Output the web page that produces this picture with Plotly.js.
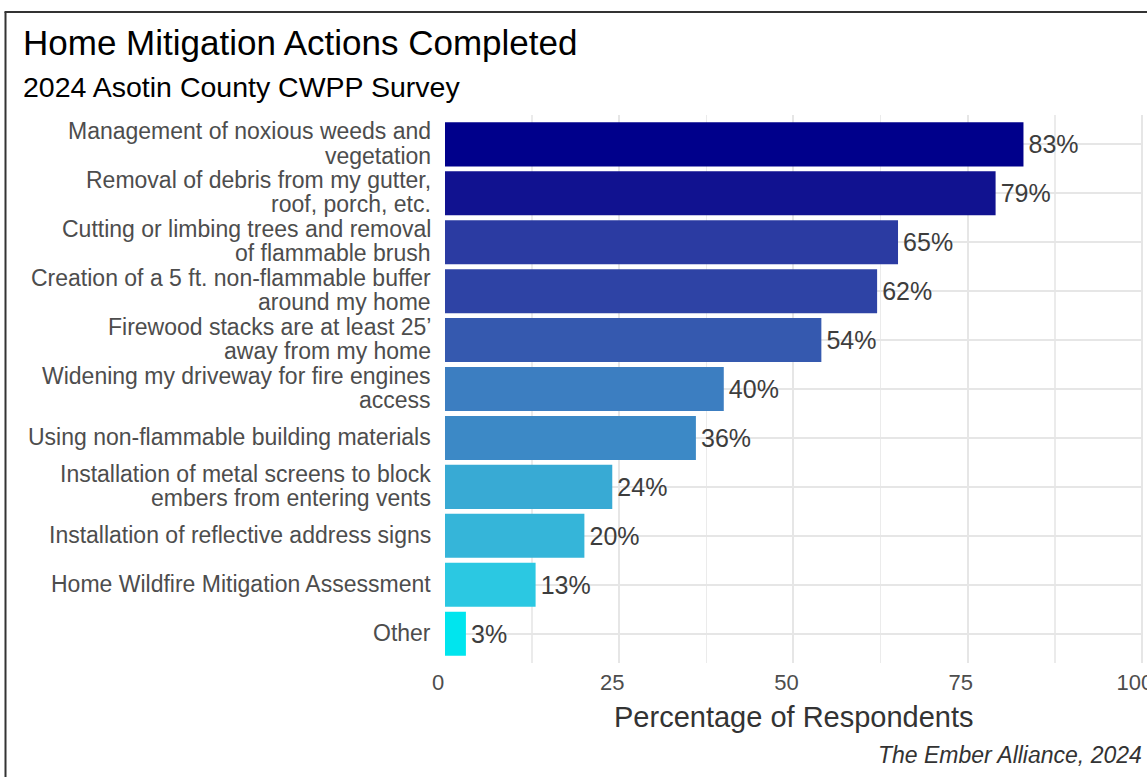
<!DOCTYPE html>
<html>
<head>
<meta charset="utf-8">
<script src="https://cdn.plot.ly/plotly-3.0.1.min.js"></script>
<style>
  html, body { margin: 0; padding: 0; background: #ffffff; }
  #chart { width: 1147px; height: 777px; }
</style>
</head>
<body>
<div id="chart"></div>
<script>
// ---- Data (top to bottom order) ----
const categories = [
  "Management of noxious weeds and\nvegetation",
  "Removal of debris from my gutter,\nroof, porch, etc.",
  "Cutting or limbing trees and removal\nof flammable brush",
  "Creation of a 5 ft. non-flammable buffer\naround my home",
  "Firewood stacks are at least 25\u2019\naway from my home",
  "Widening my driveway for fire engines\naccess",
  "Using non-flammable building materials",
  "Installation of metal screens to block\nembers from entering vents",
  "Installation of reflective address signs",
  "Home Wildfire Mitigation Assessment",
  "Other"
];
const percentValues = [83, 79, 65, 62, 54, 40, 36, 24, 20, 13, 3];
const xTickValues = [0, 25, 50, 75, 100];
const xTickLabels = ["0", "25", "50", "75", "100"];

const titleText = "Home Mitigation Actions Completed";
const subtitleText = "2024 Asotin County CWPP Survey";
const xAxisTitle = "Percentage of Respondents";
const captionText = "The Ember Alliance, 2024";

// ---- Colour gradient (low: cyan2, high: darkblue), interpolated in Lab like ggplot ----
const lowColor = [0, 229, 238];
const highColor = [0, 0, 139];
function srgbToLin(c){ c/=255; return c<=0.04045? c/12.92 : Math.pow((c+0.055)/1.055,2.4); }
function linToSrgb(c){ const v = c<=0.0031308? 12.92*c : 1.055*Math.pow(c,1/2.4)-0.055; return Math.max(0,Math.min(255,Math.round(v*255))); }
const Xn=0.95047, Yn=1.0, Zn=1.08883;
function f(t){ return t>0.008856? Math.cbrt(t) : 7.787*t+16/116; }
function finv(t){ return t>0.206893? t*t*t : (t-16/116)/7.787; }
function rgbToLab(rgb){
  const r=srgbToLin(rgb[0]), g=srgbToLin(rgb[1]), b=srgbToLin(rgb[2]);
  const X=r*0.4124+g*0.3576+b*0.1805, Y=r*0.2126+g*0.7152+b*0.0722, Z=r*0.0193+g*0.1192+b*0.9505;
  const fx=f(X/Xn), fy=f(Y/Yn), fz=f(Z/Zn);
  return [116*fy-16, 500*(fx-fy), 200*(fy-fz)];
}
function labToRgb(lab){
  const fy=(lab[0]+16)/116, fx=fy+lab[1]/500, fz=fy-lab[2]/200;
  const X=Xn*finv(fx), Y=Yn*finv(fy), Z=Zn*finv(fz);
  const r= 3.2406*X-1.5372*Y-0.4986*Z, g=-0.9689*X+1.8758*Y+0.0415*Z, b=0.0557*X-0.2040*Y+1.0570*Z;
  return 'rgb('+linToSrgb(r)+','+linToSrgb(g)+','+linToSrgb(b)+')';
}
const labLow = rgbToLab(lowColor), labHigh = rgbToLab(highColor);
const vMin = Math.min(...percentValues), vMax = Math.max(...percentValues);
const barColors = percentValues.map(v => {
  const t = (v - vMin) / (vMax - vMin);
  return labToRgb([0,1,2].map(i => labLow[i] + (labHigh[i]-labLow[i])*t));
});

// ---- Layout geometry ----
const W = 1147, H = 777;
const mL = 445, mR = 4, mT = 115, mB = 114;
const pw = W - mL - mR, ph = H - mT - mB;
const px = x => (x - mL) / pw;
const py = y => (H - mB - y) / ph;

const fontFamily = '"Liberation Sans", Arial, Helvetica, sans-serif';
const labelColor = '#4d4d4d';

const yIds = categories.map((c, i) => 'c' + i);

const trace = {
  type: 'bar',
  orientation: 'h',
  x: percentValues,
  y: yIds,
  width: 0.9,
  marker: { color: barColors, line: { width: 0 } },
  texttemplate: '\u200A%{x}%',
  textposition: 'outside',
  constraintext: 'none',
  cliponaxis: false,
  textfont: { family: fontFamily, size: 25, color: '#3d3d3d' },
  hoverinfo: 'skip'
};

// y-axis labels as annotations (one per line for tight line spacing)
const annotations = [];
const lineGap = 24.3;
categories.forEach((c, i) => {
  const lines = c.split('\n');
  lines.forEach((ln, j) => {
    annotations.push({
      text: ln, xref: 'paper', yref: 'y', x: 0, y: yIds[i],
      xanchor: 'right', yanchor: 'middle', xshift: -12,
      yshift: -((j - (lines.length - 1) / 2) * lineGap) + 1,
      showarrow: false,
      font: { family: fontFamily, size: 23, color: labelColor }
    });
  });
});

annotations.push(
  { text: titleText, xref: 'paper', yref: 'paper', x: px(21), y: py(42), xanchor: 'left', yanchor: 'middle',
    showarrow: false, font: { family: fontFamily, size: 35, color: '#000000' } },
  { text: subtitleText, xref: 'paper', yref: 'paper', x: px(21), y: py(87), xanchor: 'left', yanchor: 'middle',
    showarrow: false, font: { family: fontFamily, size: 28.5, color: '#000000' } },
  { text: xAxisTitle, xref: 'paper', yref: 'paper', x: 0.5, y: py(717), xanchor: 'center', yanchor: 'middle',
    showarrow: false, font: { family: fontFamily, size: 29, color: '#333333' } },
  { text: '<i>' + captionText + '</i>', xref: 'paper', yref: 'paper', x: px(1144), y: py(755), xanchor: 'right', yanchor: 'middle',
    showarrow: false, font: { family: fontFamily, size: 23, color: '#333333' } }
);

const shapes = [
  { type: 'line', xref: 'paper', yref: 'paper', x0: px(5.5), x1: px(5.5), y0: py(12), y1: py(790),
    line: { color: '#333333', width: 2 } },
  { type: 'line', xref: 'paper', yref: 'paper', x0: px(4.5), x1: px(1160), y0: py(12), y1: py(12),
    line: { color: '#333333', width: 2 } }
];

const layout = {
  width: W, height: H,
  margin: { l: mL, r: mR, t: mT, b: mB, pad: 0 },
  paper_bgcolor: '#ffffff',
  plot_bgcolor: '#ffffff',
  showlegend: false,
  font: { family: fontFamily },
  xaxis: {
    range: [0, 100.15],
    tickmode: 'array', tickvals: xTickValues, ticktext: xTickLabels,
    ticks: '', showline: false, zeroline: false,
    showgrid: true, gridcolor: '#e6e6e6', gridwidth: 2,
    minor: { tick0: 12.5, dtick: 25, showgrid: true, gridcolor: '#ebebeb', gridwidth: 1.5 },
    tickfont: { family: fontFamily, size: 22, color: labelColor },
    ticklabelshift: -7,
    ticklabelstandoff: 4,
    ticklabeloverflow: 'allow',
    automargin: false,
    fixedrange: true
  },
  yaxis: {
    type: 'category',
    categoryorder: 'array', categoryarray: yIds,
    range: [10.6, -0.6],
    showticklabels: false, ticks: '', showline: false, zeroline: false,
    showgrid: true, gridcolor: '#e6e6e6', gridwidth: 2,
    fixedrange: true
  },
  bargap: 0.1,
  annotations: annotations,
  shapes: shapes
};

Plotly.newPlot('chart', [trace], layout, { displayModeBar: false, staticPlot: true });
</script>
</body>
</html>
